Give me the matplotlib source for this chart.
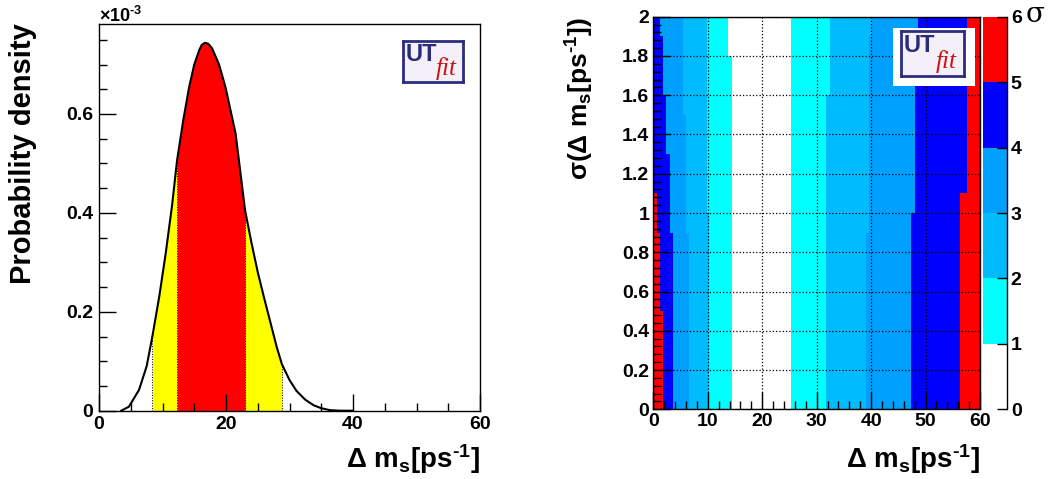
import numpy as np
import matplotlib
matplotlib.use("Agg")
import matplotlib.pyplot as plt
from matplotlib.colors import ListedColormap, BoundaryNorm
from matplotlib.cm import ScalarMappable
from matplotlib.ticker import MultipleLocator, FormatStrFormatter, FuncFormatter

plt.rcParams['font.family'] = ['Liberation Sans', 'DejaVu Sans']
plt.rcParams['font.weight'] = 'bold'
plt.rcParams['mathtext.fontset'] = 'custom'
plt.rcParams['mathtext.rm'] = 'Liberation Sans:bold'
plt.rcParams['mathtext.bf'] = 'Liberation Sans:bold'
plt.rcParams['mathtext.it'] = 'Liberation Sans:bold:italic'

# ---- left panel: p.d.f. of Delta m_s (units of 1e-3) ----
dms = [3.5, 4.7, 6.3, 7.5, 8.4, 9.5, 10.5, 11.5, 12.3, 13.3, 14.2, 15.0, 15.8,
       16.2, 16.7, 17.2, 17.8, 18.9, 19.9, 21.5, 23.0, 24.0, 25.0, 26.0, 27.0,
       28.0, 28.8, 30.0, 31.1, 32.5, 33.8, 35.0, 36.4, 38.0, 40.0]
pdf = [0.0, 0.008, 0.042, 0.090, 0.150, 0.232, 0.318, 0.415, 0.507, 0.590,
       0.655, 0.700, 0.730, 0.740, 0.744, 0.742, 0.733, 0.700, 0.655, 0.561,
       0.405, 0.340, 0.280, 0.228, 0.178, 0.128, 0.094, 0.062, 0.040, 0.022,
       0.011, 0.005, 0.001, 0.0, 0.0]
band68 = (12.3, 23.0)
band95 = (8.4, 28.8)

# ---- right panel: compatibility (in sigma) vs Delta m_s and its error ----
# per row of sigma(Delta m_s) = 0.0-0.1, 0.1-0.2, ... 1.9-2.0
# left edges: x below edge -> at least n sigma ; right edges: x above -> at least n sigma
left_5 = [1.8]*5 + [1.2]*4 + [0.6]*2 + [0.0]*9
left_4 = [3.6]*9 + [3.0]*4 + [2.4]*3 + [1.8]*3 + [1.2]
left_3 = [6.6]*9 + [6.0]*6 + [5.4]*5
left_2 = [10.2]*10 + [9.9]*10
left_1 = [14.4]*18 + [13.8]*2
right_1 = [25.2]*20
right_2 = [31.8]*16 + [32.4]*4
right_3 = [39.0]*9 + [39.6]*10 + [40.2]
right_4 = [47.4]*10 + [48.0]*9 + [48.6]
right_5 = [56.4]*11 + [57.6]*9

sigma_colors = ['#ffffff', '#00ffff', '#00bcff', '#00a0ff', '#0000ff', '#ff0000']
cbar_ticks = [0, 1, 2, 3, 4, 5, 6]

# U+2010 keeps a short bold hyphen in the exponent instead of a long minus
UNIT = 'Δ m$_{\\mathrm{s}}$[ps$^{\\mathrm{\u20101}}$]'

fig = plt.figure(figsize=(10.49, 4.79), dpi=100)


def style_axis(ax):
    ax.tick_params(which='both', direction='in', top=False, right=False,
                   labelsize=14, width=1, pad=4)
    ax.tick_params(which='major', length=12)
    ax.tick_params(which='minor', length=6)
    for s in ax.spines.values():
        s.set_linewidth(1)
    for lab in ax.get_xticklabels() + ax.get_yticklabels():
        lab.set_fontweight('bold')


def draw_logo(rect):
    lax = fig.add_axes(rect)
    lax.set_xlim(0, 1)
    lax.set_ylim(0, 1)
    lax.set_xticks([])
    lax.set_yticks([])
    lax.set_facecolor('#f3f0fa')
    for s in lax.spines.values():
        s.set_color('#2d2d80')
        s.set_linewidth(2)
    lax.text(0.05, 0.94, 'UT', color='#2b2b78', fontsize=17, fontweight='bold',
             va='top', ha='left')
    lax.text(0.55, 0.06, 'fit', color='#d01010', fontsize=18, style='italic',
             fontweight='normal', family='Liberation Serif', va='bottom', ha='left')
    return lax


# left panel
ax1 = fig.add_axes([0.0944, 0.1426, 0.3632, 0.8073])
x = np.array(dms)
y = np.array(pdf)
in95 = (x >= band95[0]) & (x <= band95[1])
in68 = (x >= band68[0]) & (x <= band68[1])
ax1.fill_between(x, 0, y, where=in95, color='#ffff00', lw=0)
ax1.fill_between(x, 0, y, where=in68, color='#ff0000', lw=0)
for edge in band95 + band68:
    ax1.vlines(edge, 0, np.interp(edge, x, y), colors='k', linestyles=':', lw=0.7)
ax1.plot(x, y, color='k', lw=1.5)
ax1.set_xlim(0, 60)
ax1.set_ylim(0, 0.782)
ax1.xaxis.set_major_locator(MultipleLocator(20))
ax1.xaxis.set_minor_locator(MultipleLocator(5))
ax1.yaxis.set_major_locator(MultipleLocator(0.2))
ax1.yaxis.set_minor_locator(MultipleLocator(0.05))
ax1.xaxis.set_major_formatter(FormatStrFormatter('%g'))
ax1.yaxis.set_major_formatter(FuncFormatter(lambda v, p: '%g' % round(v, 3)))
style_axis(ax1)
fig.text(0.0944, 1 - 22 / 479, '×10$^{\\mathrm{\u20103}}$', fontsize=13,
         fontweight='bold', ha='left', va='baseline')
fig.text(0.0224, 0.952, 'Probability density', rotation=90, fontsize=21,
         fontweight='bold', ha='center', va='top')
fig.text(480 / 1049, 1 - 468 / 479, UNIT,
         fontsize=20, fontweight='bold', ha='right', va='baseline')
draw_logo([403 / 1049, 1 - 82 / 479, 60 / 1049, 41 / 479])

# right panel
ax2 = fig.add_axes([0.6228, 0.1455, 0.3114, 0.8196])
x_edges = np.linspace(0, 60, 601)
y_edges = np.linspace(0, 2, 21)
xc = 0.5 * (x_edges[:-1] + x_edges[1:])
lefts = [left_1, left_2, left_3, left_4, left_5]
rights = [right_1, right_2, right_3, right_4, right_5]
level = np.zeros((20, len(xc)))
for i in range(20):
    for L in lefts:
        level[i] += xc < L[i]
    for R in rights:
        level[i] += xc > R[i]
cmap = ListedColormap(sigma_colors)
norm = BoundaryNorm(cbar_ticks, cmap.N)
ax2.pcolormesh(x_edges, y_edges, level + 0.5, cmap=cmap, norm=norm, shading='flat')
ax2.set_xlim(0, 60)
ax2.set_ylim(0, 2)
ax2.xaxis.set_major_locator(MultipleLocator(10))
ax2.xaxis.set_minor_locator(MultipleLocator(2))
ax2.yaxis.set_major_locator(MultipleLocator(0.2))
ax2.yaxis.set_minor_locator(MultipleLocator(0.04))
ax2.xaxis.set_major_formatter(FormatStrFormatter('%g'))
ax2.yaxis.set_major_formatter(FuncFormatter(lambda v, p: '%g' % round(v, 3)))
ax2.grid(True, which='major', color='k', linestyle=':', lw=0.9)
ax2.set_axisbelow(False)
style_axis(ax2)
ax2.tick_params(pad=3)
fig.text(579.5 / 1049, 1 - 17 / 479, 'σ(' + UNIT + ')',
         rotation=90, fontsize=19, fontweight='bold', ha='center', va='top')
fig.text(980 / 1049, 1 - 468 / 479, UNIT,
         fontsize=20, fontweight='bold', ha='right', va='baseline')

# white pad behind the logo, then the logo
pad = fig.add_axes([892.7 / 1049, 1 - 85.7 / 479, 82.3 / 1049, 57.4 / 479])
pad.set_facecolor('white')
pad.set_xticks([])
pad.set_yticks([])
for s in pad.spines.values():
    s.set_visible(False)
draw_logo([900.7 / 1049, 1 - 75.7 / 479, 63.3 / 1049, 44.7 / 479])

# colour scale
cax = fig.add_axes([983.3 / 1049, 0.1455, 23.4 / 1049, 0.8196])
cb = fig.colorbar(ScalarMappable(norm=norm, cmap=cmap), cax=cax, ticks=cbar_ticks)
cb.outline.set_visible(False)
cax.spines['right'].set_visible(True)
cax.spines['right'].set_linewidth(1)
cax.tick_params(direction='in', length=7, width=1, labelsize=14, pad=3)
for lab in cax.get_yticklabels():
    lab.set_fontweight('bold')
fig.text(1026 / 1049, 1 - 22 / 479, 'σ', fontsize=20, fontweight='normal',
         family='DejaVu Serif', ha='left', va='baseline')

fig.savefig('out.png', dpi=100)
